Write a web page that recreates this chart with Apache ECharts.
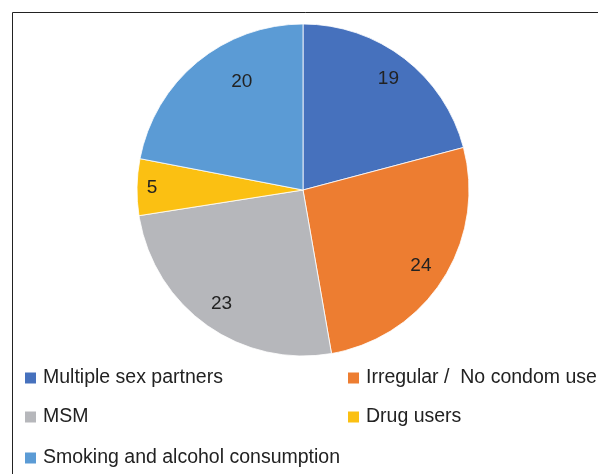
<!DOCTYPE html>
<html>
<head>
<meta charset="utf-8">
<script src="https://cdn.jsdelivr.net/npm/echarts@6/dist/echarts.min.js"></script>
<style>
  html, body { margin: 0; padding: 0; background: #fff; }
  #main { width: 598px; height: 474px; }
</style>
</head>
<body>
<div id="main"></div>
<script>
// 饼图 - 风险因素
var categories = ['Multiple sex partners', 'Irregular /  No condom use', 'MSM', 'Drug users', 'Smoking and alcohol consumption'];
var values = [19, 24, 23, 5, 20];
var colors = ['#4671BD', '#ED7D31', '#B6B7BB', '#FBC012', '#5B9BD5'];

var pieData = [];
for (var i = 0; i < categories.length; i++) {
	pieData.push({ name: categories[i], value: values[i] });
}
// 标签微调 (Excel最佳位置)
var labelData = pieData.map(function(d, i) {
	var item = { name: d.name, value: d.value };
	if (i == 1 || i == 2) item.label = { padding: [6, 0, 0, 0] };
	if (i == 3) item.label = { padding: [0, 22, 0, 0] };
	if (i == 4) item.label = { padding: [14, 0, 0, 56] };
	return item;
});

var chart = echarts.init(document.getElementById('main'));

function legendAt(names, left, top) {
	return {
		data: names,
		left: left,
		top: top,
		icon: 'rect',
		itemWidth: 13,
		itemHeight: 13,
		itemGap: 0,
		padding: 0,
		selectedMode: false,
		textStyle: { fontFamily: 'Liberation Sans', fontSize: 19.5, color: '#222', padding: [0, 0, 0, 1] }
	};
}

var option = {
	color: colors,
	animation: false,
	graphic: [{
		type: 'rect',
		shape: { x: 12.5, y: 12.5, width: 700, height: 600 },
		style: { fill: null, stroke: '#222', lineWidth: 1 },
		silent: true
	}],
	legend: [
		legendAt([categories[0]], 23, 368),
		legendAt([categories[1]], 346, 368),
		legendAt([categories[2]], 23, 407),
		legendAt([categories[3]], 346, 407),
		legendAt([categories[4]], 23, 448)
	],
	series: [{
		type: 'pie',
		center: [303, 190],
		radius: [0, 166],
		startAngle: 90,
		clockwise: true,
		itemStyle: { borderColor: '#fff', borderWidth: 0.8 },
		label: { show: false },
		labelLine: { show: false },
		emphasis: { disabled: true },
		data: pieData
	}, {
		// 透明环形, 只放标签
		type: 'pie',
		center: [303, 190],
		radius: [108, 166],
		startAngle: 90,
		clockwise: true,
		silent: true,
		itemStyle: { color: 'rgba(0,0,0,0)' },
		label: {
			show: true,
			position: 'inside',
			formatter: '{c}',
			fontFamily: 'Liberation Sans',
			fontSize: 19,
			color: '#222'
		},
		labelLine: { show: false },
		emphasis: { disabled: true },
		data: labelData
	}]
};
chart.setOption(option);
</script>
</body>
</html>
